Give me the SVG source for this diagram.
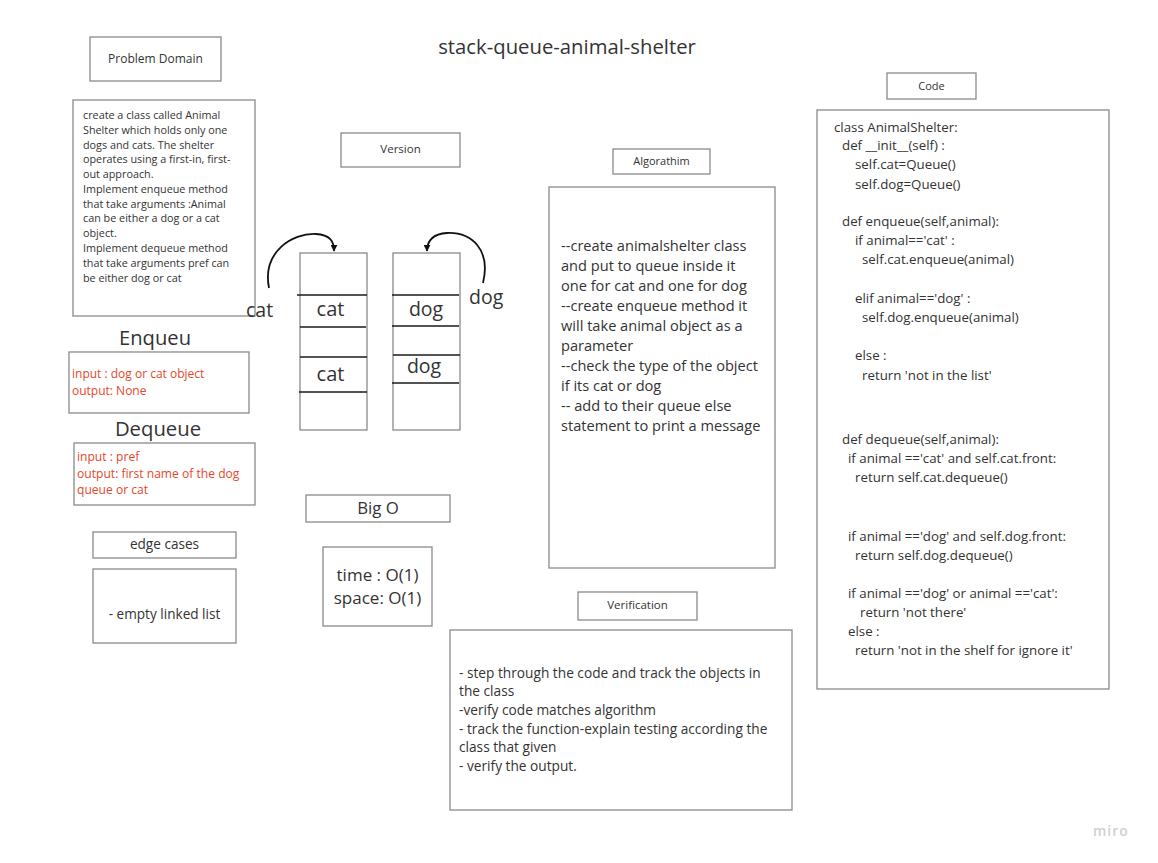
<svg xmlns="http://www.w3.org/2000/svg" width="1158" height="863" viewBox="0 0 1158 863">
<defs>
<style>
.box{fill:#fff;stroke:#8a8a8a;stroke-width:1.3}
.t{font-family:"Open Sans","Noto Sans",sans-serif;fill:#333}
.r{font-family:"Open Sans","Noto Sans",sans-serif;fill:#e5472a}
.c{text-anchor:middle}
.sl{stroke:#1a1a1a;stroke-width:1.6;fill:none}
.arr{stroke:#111;stroke-width:1.8;fill:none}
</style>
<marker id="ah" viewBox="0 0 10 10" refX="9" refY="5" markerWidth="7" markerHeight="7" orient="auto" markerUnits="userSpaceOnUse">
<path d="M0,0 L10,5 L0,10 z" fill="#111"/>
</marker>
</defs>
<rect width="1158" height="863" fill="#fff"/>

<g id="title"><text class="t c" x="567" y="54" font-size="20.3">stack-queue-animal-shelter</text></g>

<g id="problem-domain-label"><rect class="box" x="90" y="37" width="131" height="44"/><text class="t c" x="155.5" y="63" font-size="12">Problem Domain</text></g>

<g id="problem-domain">
<rect class="box" x="73" y="100" width="182" height="216"/>
<text class="t" font-size="10.8">
<tspan x="83" y="119">create a class called Animal</tspan>
<tspan x="83" y="134">Shelter which holds only one</tspan>
<tspan x="83" y="149">dogs and cats. The shelter</tspan>
<tspan x="83" y="163">operates using a first-in, first-</tspan>
<tspan x="83" y="178">out approach.</tspan>
<tspan x="83" y="193">Implement enqueue method</tspan>
<tspan x="83" y="208">that take arguments :Animal</tspan>
<tspan x="83" y="222">can be either a dog or a cat</tspan>
<tspan x="83" y="237">object.</tspan>
<tspan x="83" y="252">Implement dequeue method</tspan>
<tspan x="83" y="267">that take arguments pref can</tspan>
<tspan x="83" y="282">be either dog or cat</tspan>
</text>
</g>

<g id="enqueu-title"><text class="t c" x="155" y="345" font-size="20.2">Enqueu</text></g>
<g id="enqueu">
<rect class="box" x="69" y="352" width="180" height="61"/>
<text class="r" font-size="12"><tspan x="72" y="378">input : dog or cat object</tspan><tspan x="72" y="395">output: None</tspan></text>
</g>

<g id="dequeue-title"><text class="t c" x="158" y="436" font-size="20.3">Dequeue</text></g>
<g id="dequeue">
<rect class="box" x="74" y="443" width="181" height="62"/>
<text class="r" font-size="12.1"><tspan x="77" y="461">input : pref</tspan><tspan x="77" y="478">output: first name of the dog</tspan><tspan x="77" y="494">queue or cat</tspan></text>
</g>

<g id="edge-cases-label"><rect class="box" x="93" y="532" width="143" height="26"/><text class="t c" x="164.5" y="549" font-size="13.6">edge cases</text></g>
<g id="edge-cases"><rect class="box" x="93" y="569" width="143" height="74"/><text class="t c" x="164.5" y="619" font-size="13.6">- empty linked list</text></g>

<g id="version-label"><rect class="box" x="341" y="133" width="119" height="34"/><text class="t c" x="400.5" y="153" font-size="11.5">Version</text></g>

<g id="cat-stack">
<rect class="box" x="300" y="253" width="67" height="177"/>
<line class="sl" x1="297" y1="295" x2="367" y2="295"/>
<line class="sl" x1="300" y1="327" x2="366" y2="327"/>
<line class="sl" x1="300" y1="357" x2="367" y2="357"/>
<line class="sl" x1="299" y1="392" x2="367" y2="392"/>
<text class="t c" x="330.5" y="316" font-size="20">cat</text>
<text class="t c" x="330.5" y="381" font-size="20">cat</text>
</g>

<g id="dog-stack">
<rect class="box" x="393" y="253" width="67" height="177"/>
<line class="sl" x1="392" y1="295" x2="459" y2="295"/>
<line class="sl" x1="392" y1="326" x2="459" y2="326"/>
<line class="sl" x1="393" y1="355" x2="460" y2="355"/>
<line class="sl" x1="392" y1="383" x2="459" y2="383"/>
<text class="t c" x="426" y="316" font-size="19.5">dog</text>
<text class="t c" x="424" y="373" font-size="19.5">dog</text>
</g>

<g id="cat-input"><text class="t" x="246" y="317" font-size="19.5">cat</text></g>
<g id="dog-input"><text class="t" x="469" y="304" font-size="19.5">dog</text></g>

<g id="connectors">
<path class="arr" d="M269,288 C262,252 292,233 316,234 C330,235 334,241 334,251" marker-end="url(#ah)"/>
<path class="arr" d="M483,283 C491,250 472,232 447,233 C433,234 427,240 427,251" marker-end="url(#ah)"/>
</g>

<g id="big-o-label"><rect class="box" x="306" y="495" width="144" height="27"/><text class="t c" x="378" y="514" font-size="16.8">Big O</text></g>
<g id="big-o"><rect class="box" x="323" y="547" width="109" height="79"/><text class="t c" font-size="17"><tspan x="377.5" y="581">time : O(1)</tspan><tspan x="377.5" y="604">space: O(1)</tspan></text></g>

<g id="algorithm-label"><rect class="box" x="613" y="149" width="97" height="25"/><text class="t c" x="661.5" y="165" font-size="11">Algorathim</text></g>
<g id="algorithm">
<rect class="box" x="549" y="187" width="226" height="381"/>
<text class="t" font-size="14.6">
<tspan x="561" y="251">--create animalshelter class</tspan>
<tspan x="561" y="271">and put to queue inside it</tspan>
<tspan x="561" y="291">one for cat and one for dog</tspan>
<tspan x="561" y="311">--create enqueue method it</tspan>
<tspan x="561" y="331">will take animal object as a</tspan>
<tspan x="561" y="351">parameter</tspan>
<tspan x="561" y="371">--check the type of the object</tspan>
<tspan x="561" y="391">if its cat or dog</tspan>
<tspan x="561" y="411">-- add to their queue else</tspan>
<tspan x="561" y="431">statement to print a message</tspan>
</text>
</g>

<g id="code-label"><rect class="box" x="887" y="73" width="89" height="26"/><text class="t c" x="931.5" y="90" font-size="11">Code</text></g>
<g id="code">
<rect class="box" x="817" y="110" width="292" height="579"/>
<text class="t" font-size="13.3">
<tspan x="834" y="132">class AnimalShelter:</tspan>
<tspan x="842" y="150">def __init__(self) :</tspan>
<tspan x="855" y="169">self.cat=Queue()</tspan>
<tspan x="855" y="189">self.dog=Queue()</tspan>
<tspan x="842" y="226">def enqueue(self,animal):</tspan>
<tspan x="855" y="245">if animal=='cat' :</tspan>
<tspan x="862" y="264">self.cat.enqueue(animal)</tspan>
<tspan x="855" y="303">elif animal=='dog' :</tspan>
<tspan x="862" y="322">self.dog.enqueue(animal)</tspan>
<tspan x="855" y="360">else :</tspan>
<tspan x="862" y="380">return 'not in the list'</tspan>
<tspan x="842" y="444">def dequeue(self,animal):</tspan>
<tspan x="848" y="463">if animal =='cat' and self.cat.front:</tspan>
<tspan x="855" y="482">return self.cat.dequeue()</tspan>
<tspan x="848" y="541">if animal =='dog'  and self.dog.front:</tspan>
<tspan x="855" y="560">return self.dog.dequeue()</tspan>
<tspan x="848" y="598">if animal =='dog' or animal =='cat':</tspan>
<tspan x="860" y="617">return 'not there'</tspan>
<tspan x="848" y="636">else :</tspan>
<tspan x="855" y="655">return 'not in the shelf for ignore it'</tspan>
</text>
</g>

<g id="verification-label"><rect class="box" x="578" y="592" width="119" height="28"/><text class="t c" x="637.5" y="609" font-size="11.5">Verification</text></g>
<g id="verification">
<rect class="box" x="450" y="630" width="342" height="180"/>
<text class="t" font-size="13.7">
<tspan x="459" y="678">- step through the code and track the objects in</tspan>
<tspan x="459" y="696">the class</tspan>
<tspan x="459" y="715">-verify code matches algorithm</tspan>
<tspan x="459" y="734">- track the function-explain testing according the</tspan>
<tspan x="459" y="752">class that given</tspan>
<tspan x="459" y="771">- verify the output.</tspan>
</text>
</g>

<g id="watermark"><text x="1093" y="836" font-family="Open Sans, sans-serif" font-size="14" font-weight="600" fill="#d0d0d0" letter-spacing="1">miro</text></g>
</svg>
